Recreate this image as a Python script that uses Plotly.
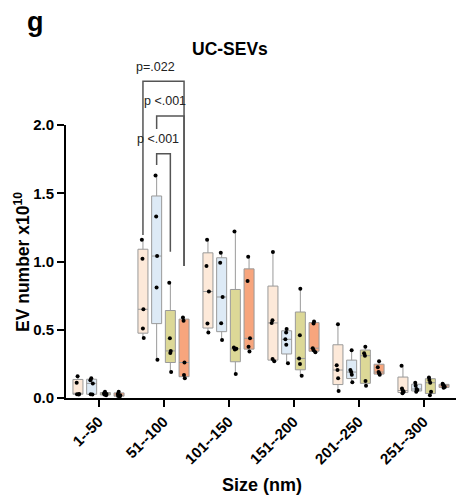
import plotly.graph_objects as go

# ---------------- data ----------------
categories = ["1--50", "51--100", "101--150", "151--200", "201--250", "251--300"]
series_names = ["Group 1", "Group 2", "Group 3", "Group 4"]

peach_vals = [
    [0.16, 0.112, 0.03, 0.028, 0.026],
    [1.16, 1.02, 0.65, 0.51, 0.44],
    [1.16, 0.967, 0.78, 0.545, 0.48],
    [1.07, 0.57, 0.55, 0.285, 0.27],
    [0.54, 0.24, 0.205, 0.145, 0.052],
    [0.237, 0.07, 0.055, 0.045, 0.035],
]
blue_vals = [
    [0.145, 0.13, 0.107, 0.028, 0.026],
    [1.63, 1.33, 1.04, 0.81, 0.28],
    [1.065, 0.99, 0.74, 0.547, 0.425],
    [0.505, 0.48, 0.43, 0.39, 0.255],
    [0.35, 0.205, 0.19, 0.17, 0.115],
    [0.112, 0.09, 0.066, 0.058, 0.045],
]
olive_vals = [
    [0.045, 0.035, 0.03, 0.025, 0.02],
    [0.845, 0.437, 0.345, 0.33, 0.19],
    [1.22, 0.37, 0.36, 0.355, 0.176],
    [0.80, 0.46, 0.29, 0.25, 0.163],
    [0.376, 0.327, 0.31, 0.125, 0.09],
    [0.151, 0.132, 0.112, 0.045, 0.02],
]
orange_vals = [
    [0.045, 0.03, 0.02, 0.015, 0.012],
    [0.59, 0.566, 0.26, 0.168, 0.144],
    [1.035, 0.857, 0.437, 0.376, 0.34],
    [0.56, 0.545, 0.365, 0.35, 0.335],
    [0.27, 0.225, 0.19, 0.18, 0.17],
    [0.105, 0.095, 0.09, 0.08, 0.075],
]
y_ticks = [0.0, 0.5, 1.0, 1.5, 2.0]

# significance comparisons in group "51--100": (series a, series b, label)
comparisons = [(0, 3, "p=.022"), (1, 3, "p <.001"), (1, 2, "p <.001")]

# ---------------- style ----------------
fills = ["#FDE9D9", "#DDEAF6", "#DCD897", "#F7A57D"]
FONT = "Arial, Liberation Sans, sans-serif"
W, H = 456, 497
ML, MR, MT, MB = 66, 0, 125, 99
PW, PH = W - ML - MR, H - MT - MB
YMAX = 2.0
BOXGAP = 0.157
BOXGROUPGAP = 0.27

fig = go.Figure()
all_series = [peach_vals, blue_vals, olive_vals, orange_vals]
for name, vals, fill in zip(series_names, all_series, fills):
    xs, ys = [], []
    for cat, v in zip(categories, vals):
        xs += [cat] * len(v)
        ys += v
    fig.add_trace(go.Box(
        x=xs, y=ys, name=name, fillcolor=fill,
        line=dict(color="#9a9a9a", width=1),
        boxpoints="all", jitter=0.3, pointpos=0,
        marker=dict(color="black", size=4),
        quartilemethod="exclusive", whiskerwidth=0,
        showlegend=False, hoverinfo="y",
    ))


def px_x(p):
    return (p - ML) / PW


def px_y(p):
    return (H - MB - p) / PH


def val_y(v):
    return v / YMAX


# box centre positions (category index + offset inside group)
slot = (1 - BOXGAP) / 4


def box_x(group_idx, series_idx):
    return group_idx + (series_idx - 1.5) * slot


gi = categories.index("51--100")
# bracket geometry (in data units): top, left-leg bottom, right-leg bottom
bracket_geo = [(2.32, 1.194, 0.967), (2.066, 1.97, 0.967), (1.79, 1.707, 1.072)]
label_pos = [(155, 67), (164.5, 101), (157.5, 139)]  # pixel centres
shapes = []
annotations = []
for (a, b, lab), (top, lb, rb), (lx, ly) in zip(comparisons, bracket_geo, label_pos):
    xa, xb = box_x(gi, a), box_x(gi, b)
    path = f"M {xa} {val_y(lb)} L {xa} {val_y(top)} L {xb} {val_y(top)} L {xb} {val_y(rb)}"
    shapes.append(dict(type="path", xref="x", yref="paper", path=path,
                       line=dict(color="#555555", width=1.5)))
    annotations.append(dict(text=lab, xref="paper", yref="paper",
                            x=px_x(lx), y=px_y(ly), showarrow=False,
                            xanchor="center", yanchor="middle",
                            font=dict(family=FONT, size=12.5, color="#222222")))

annotations += [
    dict(text="<b>UC-SEVs</b>", xref="paper", yref="paper", x=px_x(230), y=px_y(49),
         showarrow=False, xanchor="center", yanchor="middle",
         font=dict(family=FONT, size=17.5, color="black")),
    dict(text="<b>g</b>", xref="paper", yref="paper", x=px_x(35), y=px_y(22),
         showarrow=False, xanchor="center", yanchor="middle",
         font=dict(family=FONT, size=27, color="black")),
    dict(text="<b>Size (nm)</b>", xref="paper", yref="paper", x=px_x(262), y=px_y(485),
         showarrow=False, xanchor="center", yanchor="middle",
         font=dict(family=FONT, size=18, color="black")),
    dict(text="<b>EV number x10<sup>10</sup></b>", xref="paper", yref="paper",
         x=px_x(22), y=px_y(262), textangle=-90,
         showarrow=False, xanchor="center", yanchor="middle",
         font=dict(family=FONT, size=17.5, color="black")),
]

fig.update_layout(
    width=W, height=H, autosize=False,
    margin=dict(l=ML, r=MR, t=MT, b=MB, pad=0),
    paper_bgcolor="white", plot_bgcolor="white",
    boxmode="group", boxgap=BOXGAP, boxgroupgap=BOXGROUPGAP,
    shapes=shapes, annotations=annotations,
    xaxis=dict(
        type="category", categoryorder="array", categoryarray=categories,
        range=[-0.5, 5.5], showline=True, linecolor="black", linewidth=2,
        ticks="outside", ticklen=7, tickwidth=2, tickcolor="black",
        tickangle=-45, showgrid=False, zeroline=False,
        tickfont=dict(family=FONT, size=15, color="black", weight="bold"),
    ),
    yaxis=dict(
        range=[0, YMAX], tickvals=y_ticks, tickformat=".1f",
        showline=True, linecolor="black", linewidth=2,
        ticks="outside", ticklen=7, tickwidth=2, tickcolor="black",
        showgrid=False, zeroline=False,
        tickfont=dict(family=FONT, size=15, color="black", weight="bold"),
    ),
)

fig.write_html("out.html")
